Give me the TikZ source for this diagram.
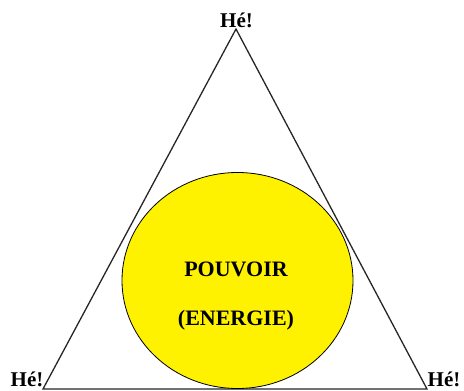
\documentclass[tikz,border=0pt]{standalone}
\usepackage{fontspec}
\setmainfont{Liberation Serif}
\usetikzlibrary{shapes.geometric}
\begin{document}
\begin{tikzpicture}[x=1pt,y=-1pt,
  lbl/.style={font=\bfseries\fontsize{21}{21}\selectfont, inner sep=0pt, anchor=base, text depth=0pt},
  big/.style={font=\bfseries\fontsize{22}{22}\selectfont, inner sep=0pt},
  edge/.style={line width=1.3pt, draw=black!85}]
\useasboundingbox (0,0) rectangle (464,391);
\coordinate (A) at (236,29);
\coordinate (B) at (43,389);
\coordinate (C) at (427,389);
\draw[edge, line join=miter] (A) -- (B) -- (C) -- cycle;
\node[ellipse, draw=black, line width=0.8pt, fill=yellow, minimum width=231pt, minimum height=216pt, inner sep=0pt] (E) at (237.5,280.5) {};
\node[big] (P) at (236,269.5) {POUVOIR};
\node[big] (N) at (236,320) {(ENERGIE)};
\node[lbl] (T) at (236.5,27) {Hé!};
\node[lbl] (L) at (27,386.5) {Hé!};
\node[lbl] (R) at (444,386.5) {Hé!};
\end{tikzpicture}
\end{document}
